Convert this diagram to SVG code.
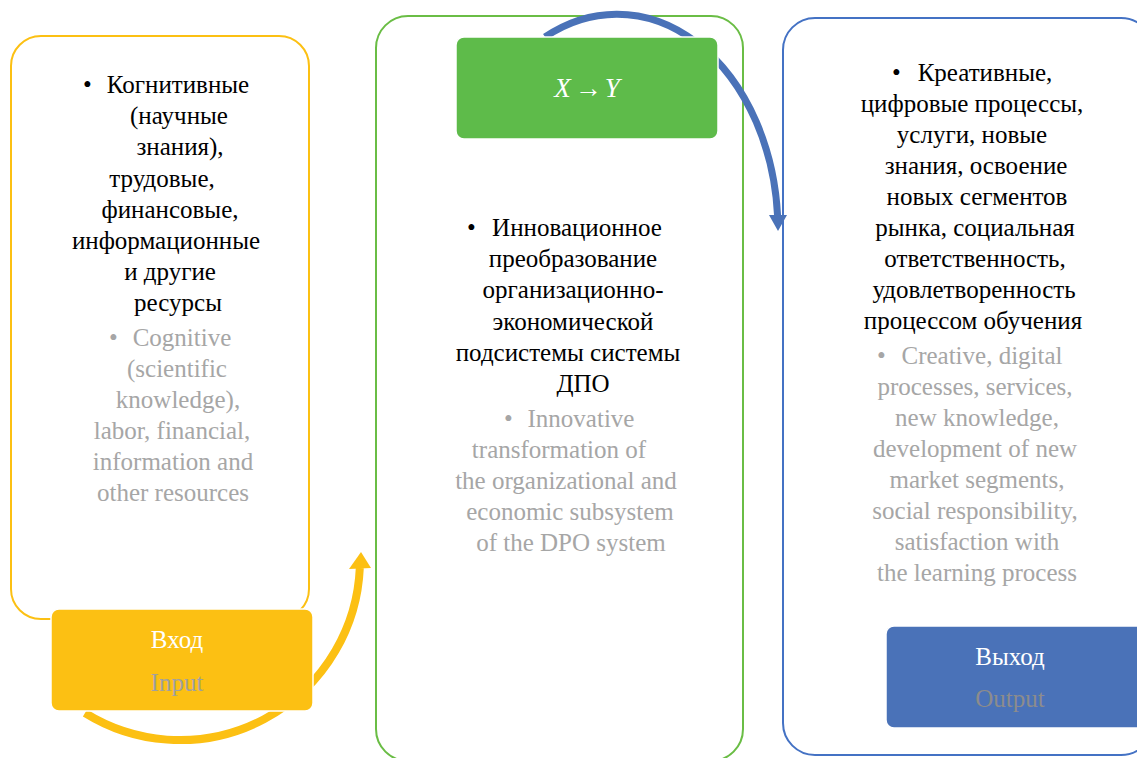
<svg xmlns="http://www.w3.org/2000/svg" width="1137" height="758" viewBox="0 0 1137 758">
<style>
  .ser { font-family: "Liberation Serif", "Times New Roman", serif; font-size: 25px; }
  .mid { text-anchor: middle; }
  .outline { fill: #FFFFFF; stroke-width: 2; }
  .lab { stroke: #FFFFFF; stroke-width: 1.5; }
</style>
<rect width="1137" height="758" fill="#FFFFFF"/>

<g id="inputs">
  <rect class="outline" x="11" y="36" width="298" height="583" rx="30" stroke="#FCC013"/>
  <g class="ser" fill="#000000">
    <text x="83" y="93">•</text>
    <text class="mid" x="178" y="93">Когнитивные</text>
    <text class="mid" x="179" y="124">(научные</text>
    <text class="mid" x="180" y="155">знания),</text>
    <text class="mid" x="162" y="187">трудовые,</text>
    <text class="mid" x="170" y="218">финансовые,</text>
    <text class="mid" x="166" y="249">информационные</text>
    <text class="mid" x="170" y="280">и другие</text>
    <text class="mid" x="178" y="311">ресурсы</text>
  </g>
  <g class="ser" fill="#A6A6A6">
    <text x="109" y="346">•</text>
    <text class="mid" x="182" y="346">Cognitive</text>
    <text class="mid" x="177" y="377">(scientific</text>
    <text class="mid" x="178" y="408">knowledge),</text>
    <text class="mid" x="172" y="439">labor, financial,</text>
    <text class="mid" x="173" y="470">information and</text>
    <text class="mid" x="173" y="501">other resources</text>
  </g>
</g>

<g id="process">
  <rect class="outline" x="376" y="16" width="367" height="745" rx="32" stroke="#6ABD45"/>
  <g class="ser" fill="#000000">
    <text x="467" y="236">•</text>
    <text class="mid" x="577" y="236">Инновационное</text>
    <text class="mid" x="573" y="267">преобразование</text>
    <text class="mid" x="573" y="298">организационно-</text>
    <text class="mid" x="573" y="330">экономической</text>
    <text class="mid" x="568" y="361">подсистемы системы</text>
    <text class="mid" x="583" y="392">ДПО</text>
  </g>
  <g class="ser" fill="#A6A6A6">
    <text x="504" y="427">•</text>
    <text class="mid" x="581" y="427">Innovative</text>
    <text class="mid" x="559" y="458">transformation of</text>
    <text class="mid" x="566" y="489">the organizational and</text>
    <text class="mid" x="570" y="520">economic subsystem</text>
    <text class="mid" x="571" y="551">of the DPO system</text>
  </g>
</g>

<g id="outputs">
  <rect class="outline" x="783" y="18" width="370" height="737" rx="32" stroke="#4472C4"/>
  <g class="ser" fill="#000000">
    <text x="892" y="81">•</text>
    <text class="mid" x="985" y="81">Креативные,</text>
    <text class="mid" x="972" y="112">цифровые процессы,</text>
    <text class="mid" x="972" y="143">услуги, новые</text>
    <text class="mid" x="976" y="174">знания, освоение</text>
    <text class="mid" x="977" y="205">новых сегментов</text>
    <text class="mid" x="975" y="236">рынка, социальная</text>
    <text class="mid" x="975" y="267">ответственность,</text>
    <text class="mid" x="974" y="298">удовлетворенность</text>
    <text class="mid" x="973" y="329">процессом обучения</text>
  </g>
  <g class="ser" fill="#A6A6A6">
    <text x="877" y="364">•</text>
    <text class="mid" x="982" y="364">Creative, digital</text>
    <text class="mid" x="975" y="395">processes, services,</text>
    <text class="mid" x="977" y="426">new knowledge,</text>
    <text class="mid" x="975" y="457">development of new</text>
    <text class="mid" x="977" y="488">market segments,</text>
    <text class="mid" x="975" y="519">social responsibility,</text>
    <text class="mid" x="977" y="550">satisfaction with</text>
    <text class="mid" x="977" y="581">the learning process</text>
  </g>
</g>

<g id="connectors">
  <path d="M 85,713 A 180 180 0 0 0 359.8,568" fill="none" stroke="#FCC013" stroke-width="8"/>
  <polygon points="361,552 349,569 371,568" fill="#FCC013"/>
  <path d="M 545,37 A 161 216 0 0 1 777.6,216" fill="none" stroke="#4A72B8" stroke-width="7"/>
  <polygon points="778,231 769,215 787,215" fill="#4A72B8"/>
</g>

<g id="input-label">
  <rect class="lab" x="51" y="609" width="262" height="102" rx="8" fill="#FCC013"/>
  <text class="ser mid" x="177" y="648" fill="#FFFFFF">Вход</text>
  <text class="ser mid" x="177" y="691" fill="#A0A0A0">Input</text>
</g>

<g id="transform-label">
  <rect class="lab" x="456" y="37" width="262" height="102" rx="8" fill="#5EBB4A"/>
  <text class="ser mid" x="587" y="97" fill="#FFFFFF" style="font-size:27px"><tspan font-style="italic">X</tspan><tspan dx="4">→</tspan><tspan dx="3" font-style="italic">Y</tspan></text>
</g>

<g id="output-label">
  <rect class="lab" x="886" y="626" width="262" height="102" rx="8" fill="#4A72B8"/>
  <text class="ser mid" x="1010" y="665" fill="#FFFFFF">Выход</text>
  <text class="ser mid" x="1010" y="707" fill="#8C8C8C">Output</text>
</g>
</svg>
